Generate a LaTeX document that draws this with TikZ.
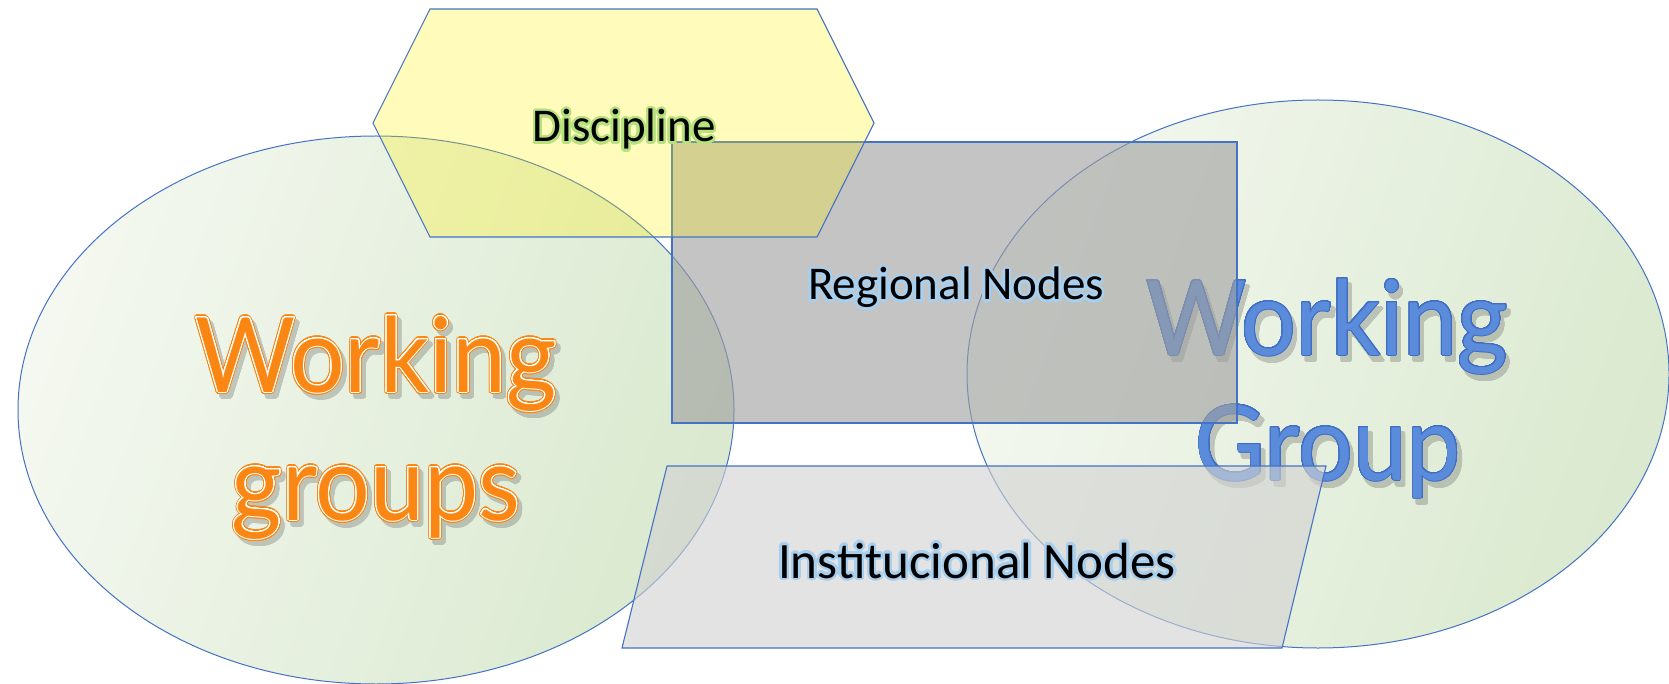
\documentclass[tikz,border=0pt]{standalone}
\usepackage{fontspec}
\usepackage[copies]{contour}
\newfontfamily\calib{Carlito}
\newfontfamily\gillf{Lato}
\definecolor{edgeblue}{HTML}{4472C4}
\definecolor{ellLight}{HTML}{F4F8F0}
\definecolor{ellDark}{HTML}{DAE9CF}
\definecolor{rectgray}{RGB}{160,160,160}
\definecolor{hexyellow}{RGB}{255,240,0}
\definecolor{paragray}{RGB}{210,210,210}
\definecolor{wgorange}{RGB}{250,135,20}
\definecolor{wgblue}{HTML}{5B8CDB}
\definecolor{wgbluedark}{HTML}{3F6EC4}
\definecolor{glowblue}{HTML}{A9CFEE}
\definecolor{glowgreen}{HTML}{B5E27E}
\definecolor{shadowgray}{RGB}{90,90,90}
\contournumber{32}
\tikzset{
  ellshape/.style={draw=edgeblue, line width=1pt, left color=ellLight, right color=ellDark, shading angle=70},
  bigtext/.style={anchor=base, inner sep=0pt, font=\gillf\fontsize{104}{104}\selectfont},
  labeltext/.style={anchor=base, inner sep=0pt, text=black},
  calfont/.style={font=\calib\fontsize{#1}{#1}\selectfont},
}
\newcommand{\squeeze}[1]{\scalebox{0.93}[1]{#1}}
\newcommand{\orangeouter}[1]{\squeeze{\contourlength{2.1pt}\contour{wgorange}{#1}}}
\newcommand{\orangeinner}[1]{\squeeze{\contourlength{1.0pt}\contour{white}{#1}}}
\newcommand{\blueout}[1]{\squeeze{\contourlength{1.0pt}\contour{wgbluedark}{#1}}}
\newcommand{\shadowtxt}[2]{\squeeze{\contourlength{#1}\contour{shadowgray}{#2}}}
\newcommand{\glowtext}[2]{\contourlength{2.4pt}\contour{#1}{#2}}
\begin{document}
\begin{tikzpicture}[x=1pt,y=-1pt]
\useasboundingbox (0,0) rectangle (1669,684);
% ellipses
\path[ellshape] (376,410) ellipse [x radius=358, y radius=274];
\path[ellshape] (1318,374) ellipse [x radius=351, y radius=274];
% left big text
\begin{scope}[transparency group, opacity=0.3]
  \node[bigtext, text=shadowgray] (lsh1) at (380,397) {\shadowtxt{2.1pt}{Working}};
  \node[bigtext, text=shadowgray] (lsh2) at (380,525) {\shadowtxt{2.1pt}{groups}};
\end{scope}
\node[bigtext, text=wgorange] (lw1o) at (376,392) {\orangeouter{Working}};
\node[bigtext, text=wgorange] (lw2o) at (376,520) {\orangeouter{groups}};
\node[bigtext, text=wgorange] (lw1) at (376,392) {\orangeinner{Working}};
\node[bigtext, text=wgorange] (lw2) at (376,520) {\orangeinner{groups}};
% right big text
\begin{scope}[transparency group, opacity=0.3]
  \node[bigtext, text=shadowgray] (rsh1) at (1331,361) {\shadowtxt{1.2pt}{Working}};
  \node[bigtext, text=shadowgray] (rsh2) at (1332,486) {\shadowtxt{1.2pt}{Group}};
\end{scope}
\node[bigtext, text=wgblue] (rw1) at (1327,355) {\blueout{Working}};
\node[bigtext, text=wgblue] (rw2) at (1328,480) {\blueout{Group}};
% regional rectangle
\path[draw=edgeblue, line width=1.1pt, fill=rectgray, fill opacity=0.62] (672,142) rectangle (1237,423);
% institutional parallelogram
\path[draw=edgeblue, line width=1.1pt, fill=paragray, fill opacity=0.62] (667,466) -- (1326,466) -- (1282,648) -- (622,648) -- cycle;
% discipline hexagon
\path[draw=edgeblue, line width=1.1pt, fill=hexyellow, fill opacity=0.27] (430,9) -- (817,9) -- (874,123) -- (817,237) -- (430,237) -- (373,123) -- cycle;
% labels
\node[labeltext, calfont=47] (disc) at (624,142) {\glowtext{glowgreen}{Discipline}};
\node[labeltext, calfont=47] (regn) at (956,300) {\glowtext{glowblue}{Regional Nodes}};
\node[labeltext, calfont=51] (instn) at (977,578) {\glowtext{glowblue}{Institucional Nodes}};
\end{tikzpicture}
\end{document}
